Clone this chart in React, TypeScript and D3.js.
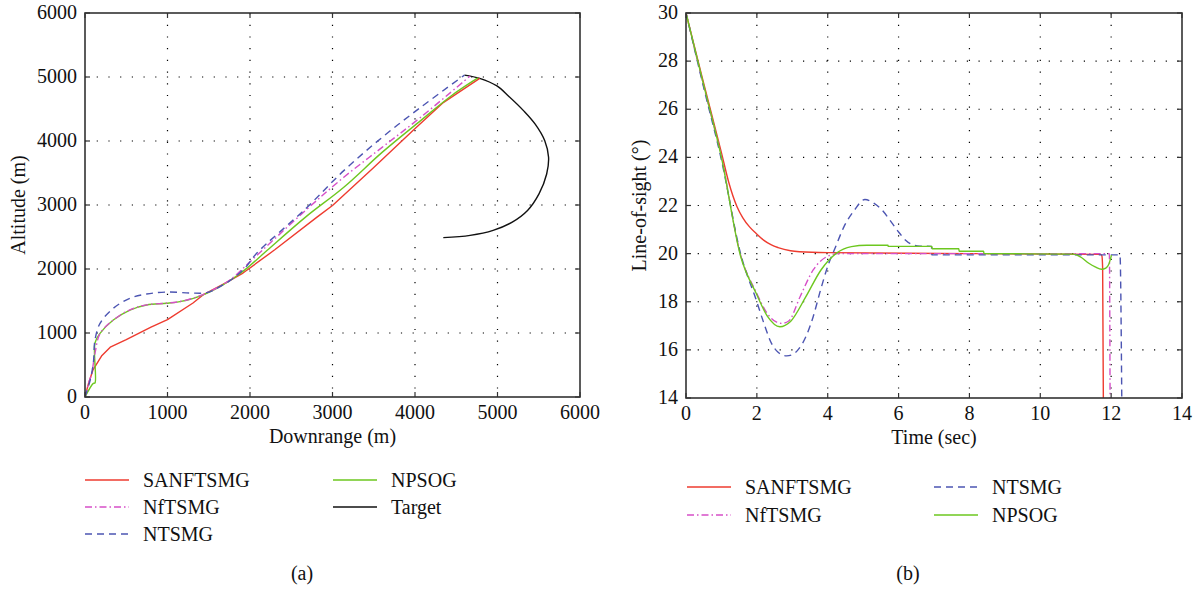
import React from "react";
import * as d3 from "d3";

// ---------- Data: panel (a) trajectories [downrange m, altitude m] ----------
const trajSANFTSMG: [number, number][] = [
  [0, 0], [40, 200], [97, 425], [200, 640], [306, 778], [500, 895], [800, 1090], [1000, 1210],
  [1309, 1469], [1430, 1594], [1700, 1780], [1915, 1937], [2300, 2300], [2812, 2811], [3000, 2993],
  [3500, 3585], [3972, 4160], [4343, 4600], [4784, 4979],
];
const trajNfTSMG: [number, number][] = [
  [0, 0], [40, 200], [81, 370], [121, 683], [182, 990], [343, 1203], [545, 1362], [747, 1440],
  [990, 1466], [1151, 1492], [1313, 1545], [1475, 1625], [1636, 1730], [1798, 1870], [1977, 2085],
  [2673, 2915], [3137, 3434], [3601, 3900], [4065, 4367], [4668, 5015],
];
const trajNTSMG: [number, number][] = [
  [0, 0], [60, 250], [101, 527], [121, 890], [182, 1151], [343, 1386], [545, 1542], [747, 1609],
  [990, 1640], [1273, 1625], [1475, 1630], [1636, 1724], [1798, 1855], [1960, 2047], [2081, 2245],
  [2673, 2941], [3137, 3537], [3601, 4056], [4065, 4523], [4600, 5030],
];
const trajNPSOG: [number, number][] = [
  [0, 0], [101, 214], [121, 219], [121, 844], [182, 995], [343, 1203], [545, 1359], [747, 1437],
  [990, 1464], [1151, 1490], [1313, 1542], [1475, 1620], [1636, 1724], [1798, 1855], [1960, 2010],
  [2209, 2293], [2673, 2811], [3137, 3278], [3601, 3822], [4065, 4315], [4437, 4704], [4762, 4985],
];
const trajTarget: [number, number][] = [
  [4600, 5030], [4784, 4979], [4993, 4860], [5132, 4704], [5318, 4471], [5457, 4263], [5573, 4004],
  [5619, 3745], [5596, 3485], [5503, 3174], [5364, 2915], [5179, 2733], [4947, 2604], [4668, 2526],
  [4343, 2490],
];

// ---------- Data: panel (b) line-of-sight [time s, angle deg] ----------
const losSANFTSMG: [number, number][] = [
  [0, 30], [0.46, 27.3], [1.0, 24.2], [1.2, 23.0], [1.44, 21.95], [1.6, 21.5], [1.8, 21.1],
  [1.98, 20.84], [2.2, 20.55], [2.41, 20.36], [2.6, 20.25], [2.95, 20.12], [3.2, 20.08], [4, 20.04],
  [8, 20.0], [11.7, 19.97], [11.74, 19.9], [11.76, 19.4], [11.78, 14],
];
const losNfTSMG: [number, number][] = [
  [0, 30], [0.5, 26.95], [1.0, 24.0], [1.54, 19.95], [1.98, 18.4], [2.3, 17.5], [2.7, 17.1],
  [2.9, 17.2], [3.22, 18.21], [3.59, 19.32], [3.97, 19.87], [4.3, 20.0], [11.95, 20.0], [11.97, 14],
];
const losNTSMG: [number, number][] = [
  [0, 30], [0.5, 26.9], [1.0, 23.9], [1.54, 20.0], [1.98, 18.08], [2.2, 17.1], [2.41, 16.28],
  [2.6, 15.9], [2.84, 15.75], [3.0, 15.8], [3.16, 16.0], [3.4, 16.6], [3.59, 17.38], [3.8, 18.5],
  [4.03, 19.6], [4.2, 20.2], [4.46, 21.12], [4.75, 21.8], [5.05, 22.25], [5.3, 22.1], [5.54, 21.8],
  [5.8, 21.3], [6.0, 20.9], [6.19, 20.57], [6.41, 20.36], [6.6, 20.31], [6.93, 20.3], [6.94, 19.95],
  [12.25, 19.95], [12.3, 14],
];
const losNPSOG: [number, number][] = [
  [0, 30], [0.5, 27.0], [1.0, 24.0], [1.54, 19.9], [1.98, 18.35], [2.3, 17.39], [2.65, 16.96],
  [2.95, 17.18], [3.38, 18.2], [3.81, 19.32], [4.24, 20.01], [4.67, 20.29], [5.1, 20.35],
  [5.7, 20.35], [5.71, 20.3], [6.94, 20.3], [6.95, 20.2], [7.7, 20.2], [7.71, 20.1], [8.4, 20.1],
  [8.41, 20.0], [10.93, 19.98], [11.15, 19.85], [11.37, 19.6], [11.55, 19.45], [11.73, 19.35],
  [11.85, 19.4], [11.93, 19.55], [12.01, 19.94],
];

const ticksA = [0, 1000, 2000, 3000, 4000, 5000, 6000];
const ticksBx = [0, 2, 4, 6, 8, 10, 12, 14];
const ticksBy = [14, 16, 18, 20, 22, 24, 26, 28, 30];

const RED = "#ee3b2f";
const MAGENTA = "#d64fc8";
const BLUE = "#4c55b2";
const GREEN = "#6dc71f";
const BLACK = "#111";

const DASH_BLUE = "7,5";
const DASH_MAG = "7,3,1.5,3";

const FONT = "Liberation Serif, DejaVu Serif, serif";

type Series = { name: string; data: [number, number][]; color: string; dash?: string; curve?: d3.CurveFactory };

function Panel(props: {
  x0: number; x1: number; y0: number; y1: number;
  xDomain: [number, number]; yDomain: [number, number];
  xTicks: number[]; yTicks: number[];
  xLabel: string; yLabel: string; yLabelX: number;
  series: Series[];
  clipId: string;
}) {
  const { x0, x1, y0, y1, xDomain, yDomain, xTicks, yTicks, series } = props;
  const xs = d3.scaleLinear().domain(xDomain).range([x0, x1]);
  const ys = d3.scaleLinear().domain(yDomain).range([y1, y0]);
  const mk = (curve?: d3.CurveFactory) =>
    d3.line<[number, number]>().x((d) => xs(d[0])).y((d) => ys(d[1])).curve(curve || d3.curveLinear);
  const tl = 5;
  return (
    <g>
      <defs>
        <clipPath id={props.clipId}>
          <rect x={x0} y={y0} width={x1 - x0} height={y1 - y0} />
        </clipPath>
      </defs>
      {xTicks.slice(1, -1).map((t) => (
        <line key={"gx" + t} x1={xs(t)} x2={xs(t)} y1={y0} y2={y1} stroke="#000" strokeWidth={1.2} strokeDasharray="1.2,10.5" />
      ))}
      {yTicks.slice(1, -1).map((t) => (
        <line key={"gy" + t} x1={x0} x2={x1} y1={ys(t)} y2={ys(t)} stroke="#000" strokeWidth={1.2} strokeDasharray="1.2,10.5" />
      ))}
      <g clipPath={`url(#${props.clipId})`}>
        {series.map((s) => (
          <path key={s.name} d={mk(s.curve)(s.data) || ""} fill="none" stroke={s.color} strokeWidth={1.4}
            strokeDasharray={s.dash} strokeLinejoin="round" />
        ))}
      </g>
      {xTicks.map((t) => (
        <g key={"tx" + t}>
          <line x1={xs(t)} x2={xs(t)} y1={y1} y2={y1 - tl} stroke="#333" strokeWidth={1.2} />
          <line x1={xs(t)} x2={xs(t)} y1={y0} y2={y0 + tl} stroke="#333" strokeWidth={1.2} />
          <text x={xs(t)} y={y1 + 22} textAnchor="middle" fontFamily={FONT} fontSize={20} fill="#111">{t}</text>
        </g>
      ))}
      {yTicks.map((t) => (
        <g key={"ty" + t}>
          <line x1={x0} x2={x0 + tl} y1={ys(t)} y2={ys(t)} stroke="#333" strokeWidth={1.2} />
          <line x1={x1} x2={x1 - tl} y1={ys(t)} y2={ys(t)} stroke="#333" strokeWidth={1.2} />
          <text x={x0 - 8} y={ys(t) + 6} textAnchor="end" fontFamily={FONT} fontSize={20} fill="#111">{t}</text>
        </g>
      ))}
      <rect x={x0} y={y0} width={x1 - x0} height={y1 - y0} fill="none" stroke="#333" strokeWidth={1.6} />
      <text x={(x0 + x1) / 2} y={y1 + 46} textAnchor="middle" fontFamily={FONT} fontSize={20} fill="#111">{props.xLabel}</text>
      <text transform={`translate(${props.yLabelX},${(y0 + y1) / 2}) rotate(-90)`} textAnchor="middle"
        fontFamily={FONT} fontSize={20} fill="#111">{props.yLabel}</text>
    </g>
  );
}

function LegendItem(props: { x: number; y: number; s: Series }) {
  const { x, y, s } = props;
  return (
    <g>
      <line x1={x} x2={x + 44} y1={y} y2={y} stroke={s.color} strokeWidth={1.4} strokeDasharray={s.dash} />
      <text x={x + 58} y={y + 7} fontFamily={FONT} fontSize={20} fill="#111">{s.name}</text>
    </g>
  );
}

export default function App() {
  const cr = d3.curveCatmullRom.alpha(0.5);
  const mono = d3.curveMonotoneX;
  const seriesA: Series[] = [
    { name: "Target", data: trajTarget, color: BLACK, curve: cr },
    { name: "SANFTSMG", data: trajSANFTSMG, color: RED },
    { name: "NPSOG", data: trajNPSOG, color: GREEN, curve: cr },
    { name: "NfTSMG", data: trajNfTSMG, color: MAGENTA, dash: DASH_MAG, curve: cr },
    { name: "NTSMG", data: trajNTSMG, color: BLUE, dash: DASH_BLUE, curve: cr },
  ];
  const seriesB: Series[] = [
    { name: "SANFTSMG", data: losSANFTSMG, color: RED, curve: mono },
    { name: "NfTSMG", data: losNfTSMG, color: MAGENTA, dash: DASH_MAG, curve: mono },
    { name: "NTSMG", data: losNTSMG, color: BLUE, dash: DASH_BLUE, curve: mono },
    { name: "NPSOG", data: losNPSOG, color: GREEN, curve: mono },
  ];
  const get = (arr: Series[], n: string) => arr.find((s) => s.name === n)!;
  return (
    <svg width={1199} height={591} style={{ position: "absolute", left: 0, top: 0, background: "#fff" }}>
      <rect x={0} y={0} width={1199} height={591} fill="#fff" />
      <Panel x0={85} x1={580} y0={13} y1={397} xDomain={[0, 6000]} yDomain={[0, 6000]}
        xTicks={ticksA} yTicks={ticksA} xLabel="Downrange (m)" yLabel="Altitude (m)" yLabelX={25}
        series={seriesA} clipId="clipA" />
      <Panel x0={686} x1={1182} y0={13} y1={398} xDomain={[0, 14]} yDomain={[14, 30]}
        xTicks={ticksBx} yTicks={ticksBy} xLabel="Time (sec)" yLabel="Line-of-sight (°)" yLabelX={646}
        series={seriesB} clipId="clipB" />
      <LegendItem x={85} y={480} s={get(seriesA, "SANFTSMG")} />
      <LegendItem x={85} y={507} s={get(seriesA, "NfTSMG")} />
      <LegendItem x={85} y={534} s={get(seriesA, "NTSMG")} />
      <LegendItem x={333} y={480} s={get(seriesA, "NPSOG")} />
      <LegendItem x={333} y={507} s={get(seriesA, "Target")} />
      <text x={302} y={580} textAnchor="middle" fontFamily={FONT} fontSize={20} fill="#111">(a)</text>
      <LegendItem x={687} y={487} s={get(seriesB, "SANFTSMG")} />
      <LegendItem x={687} y={515} s={get(seriesB, "NfTSMG")} />
      <LegendItem x={934} y={487} s={get(seriesB, "NTSMG")} />
      <LegendItem x={934} y={515} s={get(seriesB, "NPSOG")} />
      <text x={908} y={580} textAnchor="middle" fontFamily={FONT} fontSize={20} fill="#111">(b)</text>
    </svg>
  );
}
